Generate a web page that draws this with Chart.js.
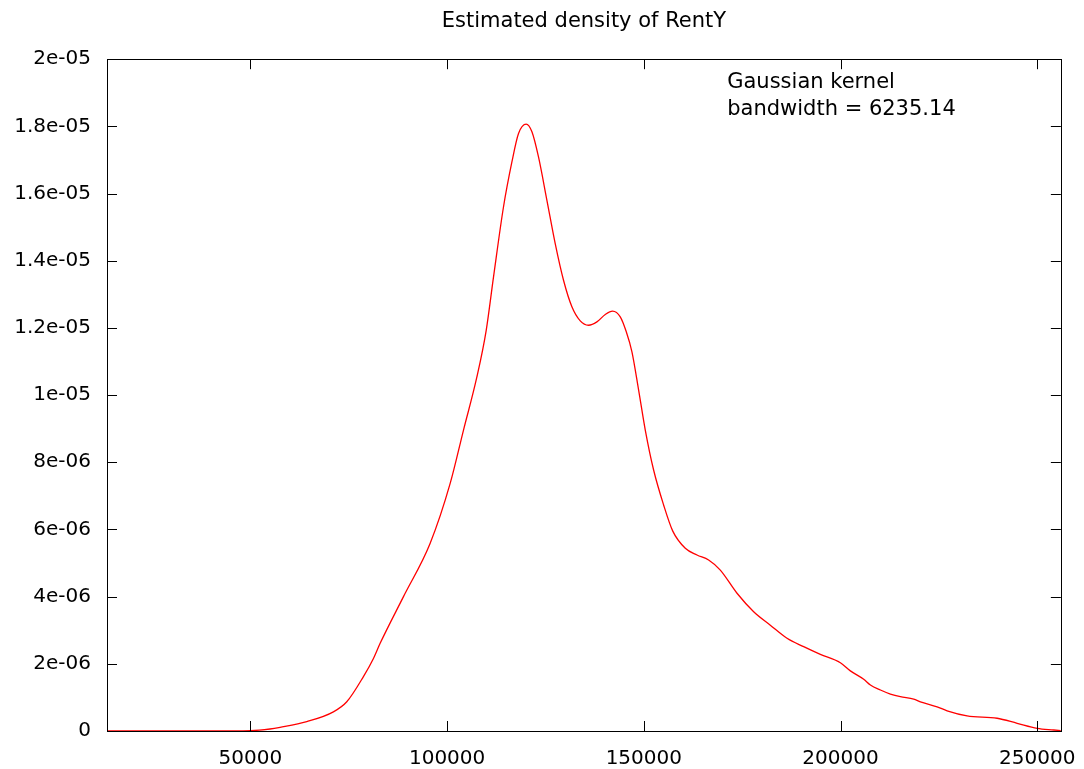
<!DOCTYPE html>
<html>
<head>
<meta charset="utf-8">
<script src="https://cdn.jsdelivr.net/npm/chart.js@4"></script>
<style>
  html, body { margin: 0; padding: 0; background: #fff; }
  #wrap { width: 1084px; height: 769px; }
</style>
</head>
<body>
<div id="wrap"><canvas id="densityChart" width="1084" height="769"></canvas></div>
<script>
// RentY values (x) and estimated density, in units of 1e-6
const rentY = [13555, 40000, 50000, 55000, 57550, 64340, 71100, 74500, 78730, 81280,
  82980, 88910, 95700, 100780, 104170, 107570, 109940, 111800, 114330, 116470,
  118150, 120100, 121560, 123230, 125370, 127480, 129590, 131720, 133840, 135950,
  138080, 140200, 142060, 144010, 145500, 146980, 148680, 150370, 152490, 155030,
  157360, 160540, 163520, 166470, 169440, 173690, 177920, 182150, 186400, 190630,
  194870, 199960, 202500, 205890, 207590, 210140, 212670, 215210, 218600, 220300,
  224550, 227090, 232170, 239800, 244890, 249980, 254200, 256000];
const density = [0, 0, 0.01, 0.06, 0.11, 0.28, 0.57, 0.87, 1.62, 2.16,
  2.61, 4.00, 5.59, 7.37, 8.96, 10.54, 11.93, 13.52, 15.6, 16.94,
  17.79, 18.07, 17.84, 17.09, 15.80, 14.51, 13.42, 12.63, 12.21, 12.08,
  12.18, 12.40, 12.50, 12.33, 11.9, 11.29, 10.15, 8.96, 7.77, 6.73,
  5.95, 5.44, 5.24, 5.09, 4.79, 4.10, 3.55, 3.15, 2.76, 2.51,
  2.28, 2.03, 1.79, 1.54, 1.37, 1.22, 1.10, 1.02, 0.95, 0.87,
  0.72, 0.60, 0.45, 0.38, 0.23, 0.08, 0.03, 0.01];

const xTicks = [50000, 100000, 150000, 200000, 250000];
const yTickLabels = ['0', '2e-06', '4e-06', '6e-06', '8e-06', '1e-05',
  '1.2e-05', '1.4e-05', '1.6e-05', '1.8e-05', '2e-05'];
const noteLines = ['Gaussian kernel', 'bandwidth = 6235.14'];

const FONT = 'DejaVu Sans';

// gnuplot style: box frame with inward ticks on all four sides, plus the label
const framePlugin = {
  id: 'frame',
  afterDraw(chart) {
    const { ctx, chartArea: a, scales } = chart;
    const tl = 10;
    ctx.save();
    ctx.strokeStyle = '#000';
    ctx.lineWidth = 1;
    ctx.beginPath();
    scales.x.ticks.forEach(t => {
      const px = Math.round(scales.x.getPixelForValue(t.value)) + 0.5;
      ctx.moveTo(px, a.bottom); ctx.lineTo(px, a.bottom - tl);
      ctx.moveTo(px, a.top); ctx.lineTo(px, a.top + tl);
    });
    scales.y.ticks.forEach(t => {
      const py = Math.round(scales.y.getPixelForValue(t.value)) + 0.5;
      ctx.moveTo(a.left, py); ctx.lineTo(a.left + tl, py);
      ctx.moveTo(a.right, py); ctx.lineTo(a.right - tl, py);
    });
    ctx.stroke();
    ctx.strokeRect(Math.round(a.left) + 0.5, Math.round(a.top) + 0.5,
      Math.round(a.right - a.left), Math.round(a.bottom - a.top));

    ctx.fillStyle = '#000';
    ctx.font = '21px "' + FONT + '"';
    ctx.textAlign = 'left';
    ctx.textBaseline = 'alphabetic';
    const nx = scales.x.getPixelForValue(171200);
    noteLines.forEach((s, i) => ctx.fillText(s, nx, a.top + 28.5 + i * 27.5));
    ctx.restore();
  }
};

new Chart(document.getElementById('densityChart'), {
  type: 'line',
  data: {
    datasets: [{
      label: 'density',
      data: rentY.map((x, i) => ({ x: x, y: density[i] })),
      borderColor: '#ff0000',
      borderWidth: 1.3,
      pointRadius: 0,
      fill: false,
      cubicInterpolationMode: 'monotone'
    }]
  },
  options: {
    responsive: false,
    animation: false,
    layout: { padding: { left: 0, right: 23, top: 0, bottom: 0 } },
    plugins: {
      legend: { display: false },
      tooltip: { enabled: false },
      title: {
        display: true,
        fullSize: false,
        text: 'Estimated density of RentY',
        color: '#000',
        font: { family: FONT, size: 21, weight: 'normal' },
        padding: { top: 9, bottom: 25 }
      }
    },
    scales: {
      x: {
        type: 'linear',
        min: 13555,
        max: 256000,
        grid: { display: false },
        border: { display: false },
        afterFit(s) { s.height = 38; },
        afterBuildTicks(s) { s.ticks = xTicks.map(v => ({ value: v })); },
        ticks: {
          maxRotation: 0,
          padding: 8,
          color: '#000',
          font: { family: FONT, size: 20 },
          callback: v => String(v)
        }
      },
      y: {
        min: 0,
        max: 20,
        grid: { display: false },
        border: { display: false },
        afterFit(s) { s.width = 107; },
        ticks: {
          stepSize: 2,
          padding: 8,
          color: '#000',
          font: { family: FONT, size: 20 },
          callback: (v, i) => yTickLabels[Math.round(v / 2)]
        }
      }
    }
  },
  plugins: [framePlugin]
});
</script>
</body>
</html>
